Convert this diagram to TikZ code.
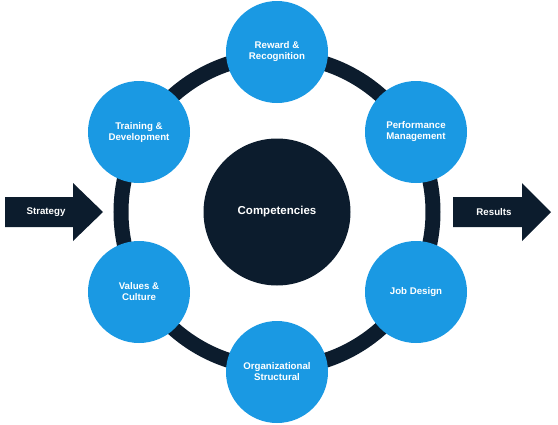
\documentclass[tikz,border=0pt]{standalone}
\usepackage{fontspec}
\setmainfont{Liberation Sans}
\usepackage{tikz}
\definecolor{hrblue}{RGB}{26,153,227}
\definecolor{hrnavy}{RGB}{12,28,45}

\begin{document}
\begin{tikzpicture}[x=1pt,y=1pt,yscale=-1,xscale=1,
    area/.style={circle,fill=hrblue,minimum size=102pt,inner sep=0pt,text=white,align=center,font=\bfseries\fontsize{9.7}{11}\selectfont},
    label text/.style={text=white,inner sep=0pt,font=\bfseries\fontsize{9.7}{11}\selectfont}]
    \useasboundingbox (0,0) rectangle (558,424);

    %Shape: Ring
    \draw [hrnavy,line width=15pt] (277,212) circle (156);
    %Shape: Circle (centre)
    \node [circle,fill=hrnavy,minimum size=147pt,inner sep=0pt,text=white,font=\bfseries\fontsize{11.5}{13}\selectfont] (core) at (277,212) {Competencies};

    %Shape: Circles on the ring
    \node [area] (reward) at (277,52) {Reward \&\\Recognition};
    \node [area] (perf) at (416,132) {Performance\\Management};
    \node [area] (job) at (416,292) {Job Design};
    \node [area] (org) at (277,372) {Organizational\\Structural};
    \node [area] (values) at (139,292) {Values \&\\Culture};
    \node [area] (training) at (139,132) {Training \&\\Development};

    %Shape: Right Arrow (in)
    \fill [hrnavy] (5,197) -- (73,197) -- (73,183) -- (103,212) -- (73,241) -- (73,227) -- (5,227) -- cycle;
    %Shape: Right Arrow (out)
    \fill [hrnavy] (453,197) -- (522,197) -- (522,183) -- (551,212) -- (522,241) -- (522,227) -- (453,227) -- cycle;

    % Text Node
    \node [label text] (strategy) at (46,212) {Strategy};
    % Text Node
    \node [label text] (results) at (494,212) {Results};
\end{tikzpicture}
\end{document}
